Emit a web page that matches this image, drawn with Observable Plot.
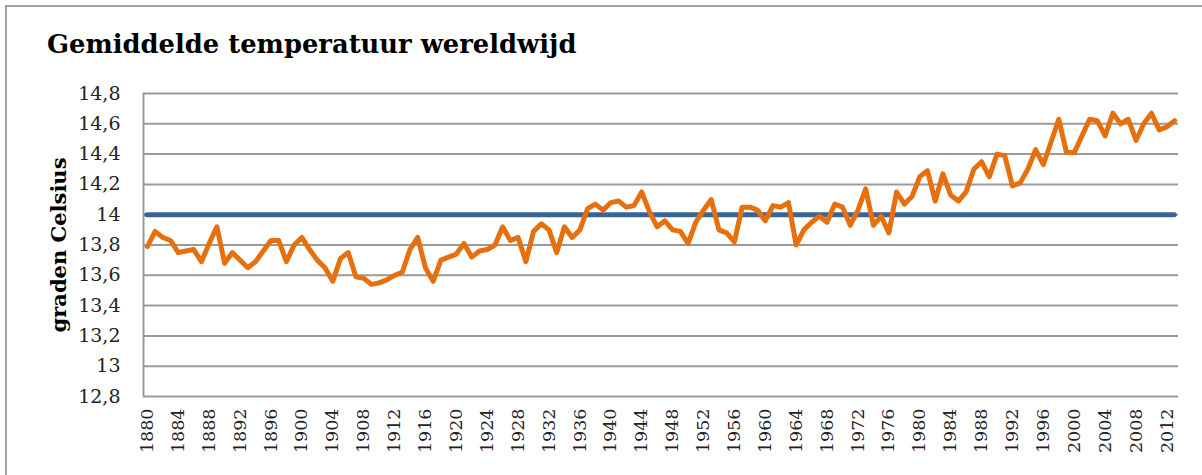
<!DOCTYPE html>
<html>
<head>
<meta charset="utf-8">
<script src="https://cdn.jsdelivr.net/npm/d3@7"></script>
<script src="https://cdn.jsdelivr.net/npm/@observablehq/plot@0.6"></script>
<style>
  html, body { margin: 0; padding: 0; background: #fff; }
  #wrap { position: relative; width: 1202px; height: 475px; overflow: hidden; }
  #frame { position: absolute; left: 5px; top: 5px; width: 1210px; height: 480px;
           border-left: 2px solid #a3a3a3; border-top: 2px solid #a3a3a3; box-sizing: border-box; }
  #title { position: absolute; left: 47px; top: 29px; margin: 0;
           font-family: "DejaVu Serif", serif; font-weight: bold; font-size: 25.8px; color: #000; white-space: nowrap; }
  #ylabel { position: absolute; left: 58px; top: 245px; transform: translate(-50%, -50%) rotate(-90deg);
            font-family: "DejaVu Serif", serif; font-weight: bold; font-size: 21px; color: #000; white-space: nowrap; }
  #head { height: 70px; }
  #chart { position: absolute; left: 0; top: 70px; }
</style>
</head>
<body>
<div id="wrap">
  <div id="frame"></div>
  <div id="head"><div id="title">Gemiddelde temperatuur wereldwijd</div></div>
  <div id="ylabel">graden Celsius</div>
  <div id="chart"></div>
</div>
<script>
// Data
const years = d3.range(1880, 2014);
const temps = [
  13.79, 13.89, 13.85, 13.83, 13.75, 13.76, 13.77, 13.69, 13.81, 13.92,
  13.68, 13.75, 13.70, 13.65, 13.69, 13.76, 13.83, 13.83, 13.69, 13.80,
  13.85, 13.77, 13.70, 13.65, 13.56, 13.71, 13.75, 13.59, 13.58, 13.54,
  13.55, 13.57, 13.60, 13.62, 13.77, 13.85, 13.65, 13.56, 13.70, 13.72,
  13.74, 13.81, 13.72, 13.76, 13.77, 13.80, 13.92, 13.83, 13.85, 13.69,
  13.89, 13.94, 13.90, 13.75, 13.92, 13.85, 13.90, 14.04, 14.07, 14.03,
  14.08, 14.09, 14.05, 14.06, 14.15, 14.02, 13.92, 13.96, 13.90, 13.89,
  13.81, 13.95, 14.03, 14.10, 13.90, 13.88, 13.82, 14.05, 14.05, 14.03,
  13.96, 14.06, 14.05, 14.08, 13.80, 13.90, 13.95, 13.99, 13.95, 14.07,
  14.05, 13.93, 14.03, 14.17, 13.93, 13.99, 13.88, 14.15, 14.07, 14.12,
  14.25, 14.29, 14.09, 14.27, 14.13, 14.09, 14.15, 14.30, 14.35, 14.25,
  14.40, 14.39, 14.19, 14.21, 14.30, 14.43, 14.33, 14.48, 14.63, 14.41,
  14.41, 14.52, 14.63, 14.62, 14.52, 14.67, 14.60, 14.63, 14.49, 14.60,
  14.67, 14.56, 14.58, 14.62
];
const reference = 14;
const yTicks = [12.8, 13, 13.2, 13.4, 13.6, 13.8, 14, 14.2, 14.4, 14.6, 14.8];
const xTicks = d3.range(1880, 2013, 4);

const data = years.map((year, i) => ({year, temp: temps[i]}));
const fmt = d => String(d).replace(".", ",");

const chart = Plot.plot({
  width: 1202,
  height: 405,
  marginLeft: 143,
  marginRight: 24,
  marginTop: 23,
  marginBottom: 79,
  x: {domain: [1879.5, 2013.5], axis: null},
  y: {domain: [12.8, 14.8], axis: null},
  style: {background: "transparent", overflow: "visible"},
  marks: [
    Plot.ruleY(yTicks, {stroke: "#9a9a9a", strokeWidth: 2, strokeOpacity: 1}),
    Plot.ruleX([1879.5], {stroke: "#9a9a9a", strokeWidth: 2, strokeOpacity: 1}),
    Plot.axisY(yTicks, {
      anchor: "left", tickSize: 0, tickPadding: 23, tickFormat: fmt, label: null,
      fontFamily: "DejaVu Serif", fontSize: 19, fill: "#222"
    }),
    Plot.axisX(xTicks, {
      anchor: "bottom", tickSize: 0, tickPadding: 12, tickRotate: -90, tickFormat: d => String(d), label: null,
      fontFamily: "DejaVu Serif", fontSize: 17.5, fill: "#222"
    }),
    Plot.ruleY([reference], {x1: 1880, x2: 2013, stroke: "#3b6496", strokeWidth: 5, strokeLinecap: "round"}),
    Plot.line(data, {x: "year", y: "temp", stroke: "#e6700d", strokeWidth: 5,
                     strokeLinejoin: "round", strokeLinecap: "round"})
  ]
});
document.getElementById("chart").appendChild(chart);
</script>
</body>
</html>
